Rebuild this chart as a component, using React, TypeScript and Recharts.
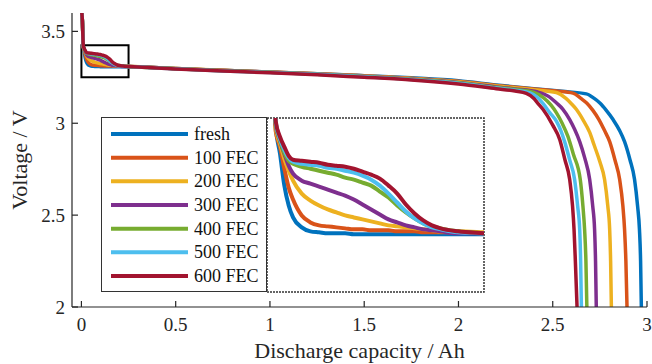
import React from "react";
import { LineChart, Line, XAxis, YAxis, ReferenceArea, Label } from "recharts";

// shared capacity grid (Ah): dense at the start for the zoomed view
const capGrid = [
  0, 0.005, 0.01, 0.015, 0.02, 0.025, 0.03, 0.04, 0.05, 0.06, 0.07, 0.08, 0.09,
  0.1, 0.11, 0.12, 0.13, 0.14, 0.15, 0.16, 0.17, 0.18, 0.19, 0.2, 0.22, 0.25,
  0.35, 0.5, 0.75, 1.0, 1.25, 1.5, 1.75, 2.0,
];

const freshV = [
  3.62, 3.56, 3.418, 3.389, 3.357, 3.337, 3.325, 3.315, 3.311, 3.31, 3.309, 3.309, 3.309,
  3.308, 3.308, 3.308, 3.308, 3.308, 3.308, 3.308, 3.308, 3.308, 3.308, 3.308, 3.308, 3.308,
  3.305, 3.298, 3.288, 3.279, 3.27, 3.259, 3.247, 3.231,
];
const fec100V = [
  3.62, 3.56, 3.412, 3.396, 3.374, 3.355, 3.343, 3.327, 3.32, 3.317, 3.316, 3.315, 3.314,
  3.313, 3.313, 3.312, 3.312, 3.312, 3.311, 3.311, 3.311, 3.31, 3.31, 3.31, 3.31, 3.309,
  3.305, 3.298, 3.288, 3.279, 3.27, 3.258, 3.245, 3.228,
];
const fec200V = [
  3.62, 3.56, 3.415, 3.399, 3.384, 3.372, 3.362, 3.349, 3.342, 3.337, 3.333, 3.33, 3.327,
  3.325, 3.323, 3.321, 3.319, 3.317, 3.316, 3.315, 3.314, 3.313, 3.312, 3.311, 3.311, 3.31,
  3.305, 3.298, 3.288, 3.278, 3.269, 3.257, 3.243, 3.226,
];
const fec300V = [
  3.62, 3.56, 3.418, 3.402, 3.389, 3.377, 3.369, 3.362, 3.359, 3.356, 3.353, 3.35, 3.347,
  3.343, 3.338, 3.333, 3.328, 3.323, 3.32, 3.317, 3.315, 3.313, 3.312, 3.311, 3.309, 3.309,
  3.305, 3.297, 3.287, 3.278, 3.268, 3.256, 3.241, 3.222,
];
const fec400V = [
  3.62, 3.56, 3.42, 3.403, 3.39, 3.382, 3.379, 3.376, 3.374, 3.372, 3.37, 3.368, 3.365,
  3.363, 3.36, 3.357, 3.351, 3.345, 3.337, 3.33, 3.324, 3.319, 3.316, 3.314, 3.311, 3.309,
  3.304, 3.297, 3.286, 3.277, 3.267, 3.255, 3.239, 3.22,
];
const fec500V = [
  3.62, 3.56, 3.421, 3.404, 3.393, 3.385, 3.381, 3.379, 3.378, 3.377, 3.375, 3.374, 3.372,
  3.37, 3.367, 3.363, 3.357, 3.349, 3.34, 3.331, 3.324, 3.319, 3.315, 3.313, 3.31, 3.309,
  3.304, 3.296, 3.285, 3.276, 3.266, 3.253, 3.238, 3.218,
];
const fec600V = [
  3.62, 3.56, 3.422, 3.406, 3.396, 3.387, 3.383, 3.382, 3.381, 3.38, 3.378, 3.377, 3.376,
  3.374, 3.371, 3.368, 3.364, 3.357, 3.349, 3.338, 3.329, 3.322, 3.317, 3.314, 3.311, 3.309,
  3.303, 3.295, 3.284, 3.275, 3.264, 3.25, 3.236, 3.214,
];

// end of discharge, per series
const freshTailCap = [2.2, 2.4, 2.55, 2.678, 2.72, 2.75, 2.784, 2.82, 2.855, 2.881, 2.91, 2.934, 2.95, 2.96, 2.966, 2.97];
const freshTailV = [3.208, 3.188, 3.174, 3.16, 3.135, 3.11, 3.07, 3.02, 2.96, 2.9, 2.8, 2.694, 2.55, 2.422, 2.25, 2.0];
const fec100TailCap = [2.2, 2.4, 2.52, 2.607, 2.65, 2.68, 2.713, 2.745, 2.775, 2.802, 2.83, 2.855, 2.872, 2.881, 2.888, 2.894];
const fec100TailV = [3.206, 3.186, 3.175, 3.164, 3.135, 3.11, 3.07, 3.02, 2.96, 2.9, 2.8, 2.694, 2.55, 2.422, 2.25, 2.0];
const fec200TailCap = [2.2, 2.4, 2.519, 2.57, 2.6, 2.625, 2.66, 2.696, 2.72, 2.75, 2.775, 2.792, 2.802, 2.807, 2.811];
const fec200TailV = [3.203, 3.182, 3.167, 3.135, 3.105, 3.076, 3.02, 2.95, 2.88, 2.79, 2.694, 2.55, 2.422, 2.25, 2.0];
const fec300TailCap = [2.2, 2.3, 2.42, 2.48, 2.52, 2.554, 2.59, 2.616, 2.643, 2.67, 2.696, 2.712, 2.722, 2.727, 2.731];
const fec300TailV = [3.198, 3.187, 3.17, 3.145, 3.11, 3.076, 3.02, 2.967, 2.9, 2.81, 2.694, 2.55, 2.422, 2.25, 2.0];
const fec400TailCap = [2.2, 2.3, 2.4, 2.45, 2.49, 2.519, 2.55, 2.58, 2.61, 2.646, 2.66, 2.669, 2.676, 2.681];
const fec400TailV = [3.195, 3.184, 3.168, 3.14, 3.1, 3.058, 3.0, 2.93, 2.83, 2.694, 2.55, 2.422, 2.25, 2.0];
const fec500TailCap = [2.2, 2.3, 2.38, 2.42, 2.45, 2.484, 2.52, 2.545, 2.563, 2.59, 2.616, 2.632, 2.643, 2.648, 2.652];
const fec500TailV = [3.192, 3.18, 3.165, 3.14, 3.105, 3.058, 3.01, 2.955, 2.9, 2.8, 2.694, 2.55, 2.422, 2.25, 2.0];
const fec600TailCap = [2.2, 2.3, 2.36, 2.4, 2.42, 2.448, 2.5, 2.537, 2.565, 2.59, 2.605, 2.613, 2.62, 2.629];
const fec600TailV = [3.188, 3.175, 3.162, 3.135, 3.11, 3.076, 2.99, 2.912, 2.8, 2.694, 2.55, 2.422, 2.25, 2.0];

const seriesNames = ["fresh", "100 FEC", "200 FEC", "300 FEC", "400 FEC", "500 FEC", "600 FEC"];
const seriesColors = ["#0072BD", "#D95319", "#EDB120", "#7E2F8E", "#77AC30", "#4DBEEE", "#A2142F"];

const xTicks = [0, 0.5, 1, 1.5, 2, 2.5, 3];
const yTicks = [2, 2.5, 3, 3.5];
const zoomCap = [0, 0.25];
const zoomVolt = [3.25, 3.425];

const toPoints = (v: number[], tailCap: number[], tailV: number[]) => [
  ...capGrid.map((c, i) => ({ cap: c, v: v[i] })),
  ...tailCap.map((c, i) => ({ cap: c, v: tailV[i] })),
];

const seriesData = [
  toPoints(freshV, freshTailCap, freshTailV),
  toPoints(fec100V, fec100TailCap, fec100TailV),
  toPoints(fec200V, fec200TailCap, fec200TailV),
  toPoints(fec300V, fec300TailCap, fec300TailV),
  toPoints(fec400V, fec400TailCap, fec400TailV),
  toPoints(fec500V, fec500TailCap, fec500TailV),
  toPoints(fec600V, fec600TailCap, fec600TailV),
];

const FONT = "'Liberation Serif', 'Times New Roman', serif";
const AXIS = "#262626";
const tickStyle = { fontSize: 19, fill: AXIS, fontFamily: FONT };

const App = (): JSX.Element => {
  return (
    <div style={{ position: "absolute", left: 0, top: 0, width: 652, height: 364, fontFamily: FONT }}>
      <LineChart width={652} height={364} margin={{ top: 13, right: 5, bottom: 27, left: 22 }}>
        <XAxis
          xAxisId="bottom"
          type="number"
          dataKey="cap"
          domain={[-0.05, 3]}
          ticks={xTicks}
          allowDataOverflow
          height={30}
          tickSize={-6}
          tickMargin={17}
          tick={tickStyle}
          stroke={AXIS}
          strokeWidth={1.2}
        >
          <Label
            content={() => (
              <text x={359.5} y={358} textAnchor="middle" fontSize={22} fill={AXIS} fontFamily={FONT}>
                Discharge capacity / Ah
              </text>
            )}
          />
        </XAxis>
        <XAxis
          xAxisId="top"
          orientation="top"
          type="number"
          dataKey="cap"
          domain={[-0.05, 3]}
          ticks={xTicks}
          allowDataOverflow
          height={0}
          tickSize={-6}
          tick={false}
          stroke={AXIS}
          strokeWidth={1.2}
        />
        <YAxis
          yAxisId="left"
          type="number"
          domain={[2, 3.6]}
          ticks={yTicks}
          allowDataOverflow
          width={50}
          tickSize={-6}
          tickMargin={13}
          tick={tickStyle}
          stroke={AXIS}
          strokeWidth={1.2}
        >
          <Label
            content={() => (
              <text
                x={26.5}
                y={160}
                transform="rotate(-90 26.5 160)"
                textAnchor="middle"
                fontSize={22}
                fill={AXIS}
                fontFamily={FONT}
              >
                Voltage / V
              </text>
            )}
          />
        </YAxis>
        <YAxis
          yAxisId="right"
          orientation="right"
          type="number"
          domain={[2, 3.6]}
          ticks={yTicks}
          allowDataOverflow
          width={0}
          tickSize={-6}
          tick={false}
          stroke={AXIS}
          strokeWidth={1.2}
        />
        {seriesData.map((d, i) => (
          <Line
            key={seriesNames[i]}
            xAxisId="bottom"
            yAxisId="left"
            data={d}
            dataKey="v"
            name={seriesNames[i]}
            type="monotone"
            stroke={seriesColors[i]}
            strokeWidth={3.5}
            dot={false}
            isAnimationActive={false}
          />
        ))}
        <ReferenceArea
          xAxisId="bottom"
          yAxisId="left"
          x1={zoomCap[0]}
          x2={zoomCap[1]}
          y1={zoomVolt[0]}
          y2={zoomVolt[1]}
          fill="none"
          stroke="#000"
          strokeWidth={2}
        />
      </LineChart>

      {/* legend */}
      <svg style={{ position: "absolute", left: 101, top: 117 }} width={167} height={176}>
        <rect x={0.5} y={0.5} width={165} height={174} fill="#fff" stroke="#333" strokeWidth={1} />
        {seriesNames.map((name, i) => {
          const cy = 17 + i * 23.67;
          return (
            <g key={name}>
              <line x1={10} x2={87} y1={cy} y2={cy} stroke={seriesColors[i]} strokeWidth={4} />
              <text x={93} y={cy + 6} fontSize={18} fill="#111" fontFamily={FONT}>
                {name}
              </text>
            </g>
          );
        })}
      </svg>

      {/* zoomed inset */}
      <div style={{ position: "absolute", left: 265, top: 116 }}>
        <LineChart width={221} height={178} margin={{ top: 2, right: 2, bottom: 2, left: 2 }}>
          <XAxis type="number" dataKey="cap" domain={zoomCap} allowDataOverflow hide />
          <YAxis type="number" domain={zoomVolt} allowDataOverflow hide />
          {seriesData.map((d, i) => (
            <Line
              key={seriesNames[i]}
              data={d}
              dataKey="v"
              type="monotone"
              stroke={seriesColors[i]}
              strokeWidth={4}
              dot={false}
              isAnimationActive={false}
            />
          ))}
          <ReferenceArea
            x1={zoomCap[0]}
            x2={zoomCap[1]}
            y1={zoomVolt[0]}
            y2={zoomVolt[1]}
            fill="none"
            stroke="#333"
            strokeWidth={1.5}
            strokeDasharray="2 1"
          />
        </LineChart>
      </div>
    </div>
  );
};

export default App;
